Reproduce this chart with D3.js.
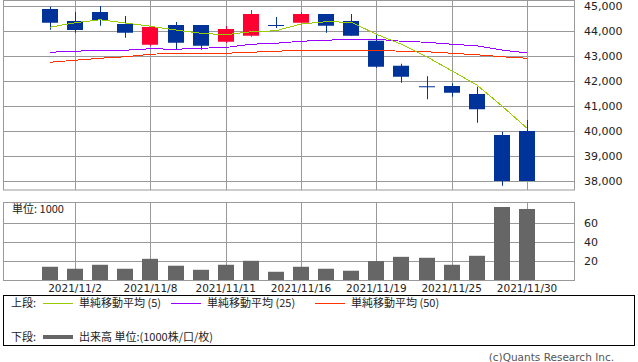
<!DOCTYPE html>
<html>
<head>
<meta charset="utf-8">
<script src="https://cdn.jsdelivr.net/npm/d3@7"></script>
<style>
  body { margin: 0; background: #fff; }
  svg { display: block; }
  text { font-family: "DejaVu Sans", sans-serif; fill: #222; }
  .jp { font-family: "Noto Sans CJK JP", sans-serif; }
</style>
</head>
<body>
<div id="chart"></div>
<script>
// trading days, nov 2021
var dates = ['2021/11/1','2021/11/2','2021/11/4','2021/11/5','2021/11/8','2021/11/9','2021/11/10',
  '2021/11/11','2021/11/12','2021/11/15','2021/11/16','2021/11/17','2021/11/18','2021/11/19',
  '2021/11/22','2021/11/24','2021/11/25','2021/11/26','2021/11/29','2021/11/30'];
var opens  = [44880,44400,44760,44280,43450,44240,44240,43570,43810,44240,44330,44680,44400,43610,42610,41790,41800,41480,39840,40000];
var highs  = [44970,44760,45000,44600,44170,44360,44240,44200,44840,44560,44760,44680,44680,43850,42690,42190,41910,41770,39970,40440];
var lows   = [44050,43930,44210,43730,43400,43280,43250,43520,43770,44120,44330,43930,43810,42530,41930,41270,41370,40330,37810,38000];
var closes = [44330,44040,44440,43930,44160,43530,43410,44080,44680,44240,44680,44210,43810,42570,42170,41790,41530,40870,38000,38000];
var ma5  = [44150,44330,44450,44320,44190,44040,43910,43850,43970,44010,44280,44370,44350,43870,43470,42970,42410,41840,41000,40110];
var ma25 = [43150,43190,43230,43230,43290,43270,43310,43340,43470,43510,43590,43630,43670,43670,43590,43550,43470,43410,43240,43120];
var ma50 = [42750,42830,42910,42970,43070,43110,43110,43110,43150,43190,43230,43230,43230,43230,43190,43170,43110,43050,42970,42910];
var volumes = [14,11.9,16.1,11.9,22.4,15.1,10.8,16.1,20.3,8.7,14,11.9,9.8,20,24.5,23.5,16.1,25.6,77.2,75.1];
var labelIdx = [1,4,7,10,13,16,19];
var priceTicks = [45000,44000,43000,42000,41000,40000,39000,38000];
var volTicks = [20,40,60];

var W = 638, H = 362;
var left = 3, right = 574;
var gridColor = '#999';
var upColor = '#ff0033', downColor = '#003399';

var svg = d3.select('#chart').append('svg')
    .attr('width', W)
    .attr('height', H);

var x = d3.scaleLinear().domain([-1.87, 20.87]).range([left, right]);
var y = d3.scaleLinear().domain([45000, 38000]).range([6, 181]);
var yv = d3.scaleLinear().domain([0, 82.5]).range([280, 202]);

var fmt = d3.format(',');

// ---- upper panel grid
var top1 = 0.5, bot1 = 190;
var g1 = svg.append('g');
g1.selectAll('.hgrid').data(priceTicks).enter().append('line')
    .attr('x1', left).attr('x2', right)
    .attr('y1', function (d) { return Math.round(y(d)) + 0.5; })
    .attr('y2', function (d) { return Math.round(y(d)) + 0.5; })
    .attr('stroke', gridColor);
g1.selectAll('.vgrid').data(labelIdx).enter().append('line')
    .attr('x1', function (d) { return Math.round(x(d)) + 0.5; })
    .attr('x2', function (d) { return Math.round(x(d)) + 0.5; })
    .attr('y1', top1).attr('y2', bot1)
    .attr('stroke', gridColor);
g1.append('rect')
    .attr('x', left + 0.5).attr('y', top1)
    .attr('width', right - left).attr('height', bot1 - top1)
    .attr('fill', 'none').attr('stroke', gridColor);
g1.selectAll('.plabel').data(priceTicks).enter().append('text')
    .attr('x', 584)
    .attr('y', function (d) { return y(d); })
    .attr('dy', '0.36em')
    .style('font-size', '11px')
    .text(function (d) { return fmt(d); });

// candles
var cw = 16;
var candles = svg.append('g').selectAll('g').data(dates).enter().append('g');
candles.append('line')
    .attr('x1', function (d, i) { return Math.round(x(i)) + 0.5; })
    .attr('x2', function (d, i) { return Math.round(x(i)) + 0.5; })
    .attr('y1', function (d, i) { return y(highs[i]); })
    .attr('y2', function (d, i) { return y(lows[i]); })
    .attr('stroke', function (d, i) { return closes[i] > opens[i] ? upColor : downColor; });
candles.append('rect')
    .attr('x', function (d, i) { return Math.round(x(i)) - cw / 2; })
    .attr('y', function (d, i) { return y(Math.max(opens[i], closes[i])); })
    .attr('width', cw)
    .attr('height', function (d, i) { return Math.max(1, Math.abs(y(opens[i]) - y(closes[i]))); })
    .attr('fill', function (d, i) { return closes[i] > opens[i] ? upColor : downColor; });

// moving averages
function maLine(vals, color) {
    var line = d3.line()
        .x(function (d, i) { return x(i); })
        .y(function (d) { return y(d); });
    svg.append('path')
        .datum(vals)
        .attr('d', line)
        .attr('fill', 'none')
        .attr('stroke', color)
        .attr('stroke-width', 1)
        .style('shape-rendering', 'crispEdges');
}
maLine(ma50, '#ff3300');
maLine(ma25, '#9900ff');
maLine(ma5, '#99cc00');

// ---- volume panel
var top2 = 202, bot2 = 280;
var g2 = svg.append('g');
g2.selectAll('.hgrid').data(volTicks).enter().append('line')
    .attr('x1', left).attr('x2', right)
    .attr('y1', function (d) { return Math.round(yv(d)) + 0.5; })
    .attr('y2', function (d) { return Math.round(yv(d)) + 0.5; })
    .attr('stroke', gridColor);
g2.selectAll('.vgrid').data(labelIdx).enter().append('line')
    .attr('x1', function (d) { return Math.round(x(d)) + 0.5; })
    .attr('x2', function (d) { return Math.round(x(d)) + 0.5; })
    .attr('y1', top2).attr('y2', bot2)
    .attr('stroke', gridColor);
g2.selectAll('.bar').data(volumes).enter().append('rect')
    .attr('x', function (d, i) { return Math.round(x(i)) - cw / 2; })
    .attr('y', function (d) { return yv(d); })
    .attr('width', cw)
    .attr('height', function (d) { return bot2 - yv(d); })
    .attr('fill', '#666');
g2.append('rect')
    .attr('x', left + 0.5).attr('y', top2 + 0.5)
    .attr('width', right - left).attr('height', bot2 - top2)
    .attr('fill', 'none').attr('stroke', gridColor);
g2.selectAll('.vlabel').data(volTicks).enter().append('text')
    .attr('x', 584)
    .attr('y', function (d) { return yv(d); })
    .attr('dy', '0.36em')
    .style('font-size', '11px')
    .text(function (d) { return d; });
g2.append('text')
    .attr('class', 'jp')
    .attr('x', 12).attr('y', 209)
    .attr('dy', '0.36em')
    .style('font-size', '11px')
    .text('単位: 1000');

// date labels
svg.selectAll('.dlabel').data(labelIdx).enter().append('text')
    .attr('x', function (d) { return x(d); })
    .attr('y', 288)
    .attr('dy', '0.36em')
    .attr('text-anchor', 'middle')
    .style('font-size', '10.5px')
    .text(function (d) { return dates[d]; });

// ---- legend
var lg = svg.append('g');
lg.append('rect')
    .attr('x', 3.5).attr('y', 295.5)
    .attr('width', 631).attr('height', 50)
    .attr('fill', 'none').attr('stroke', '#000');
var legendItems = [
    { x: 43, label: '単純移動平均 (5)', color: '#99cc00' },
    { x: 171, label: '単純移動平均 (25)', color: '#9900ff' },
    { x: 315, label: '単純移動平均 (50)', color: '#ff3300' }
];
lg.append('text').attr('class', 'jp')
    .attr('x', 11).attr('y', 303).attr('dy', '0.36em')
    .style('font-size', '11px').text('上段:');
legendItems.forEach(function (it) {
    lg.append('line')
        .attr('x1', it.x).attr('x2', it.x + 30)
        .attr('y1', 303.5).attr('y2', 303.5)
        .attr('stroke', it.color);
    lg.append('text').attr('class', 'jp')
        .attr('x', it.x + 36).attr('y', 303).attr('dy', '0.36em')
        .style('font-size', '11px').text(it.label);
});
lg.append('text').attr('class', 'jp')
    .attr('x', 11).attr('y', 337).attr('dy', '0.36em')
    .style('font-size', '11px').text('下段:');
lg.append('line')
    .attr('x1', 43).attr('x2', 73)
    .attr('y1', 337).attr('y2', 337)
    .attr('stroke', '#666').attr('stroke-width', 4);
lg.append('text').attr('class', 'jp')
    .attr('x', 79).attr('y', 337).attr('dy', '0.36em')
    .style('font-size', '11px').text('出来高 単位:(1000株/口/枚)');

svg.append('text')
    .attr('x', 614).attr('y', 357)
    .attr('dy', '0.36em')
    .attr('text-anchor', 'end')
    .style('font-size', '10.5px')
    .style('fill', '#555')
    .text('(c)Quants Research Inc.');
</script>
</body>
</html>
